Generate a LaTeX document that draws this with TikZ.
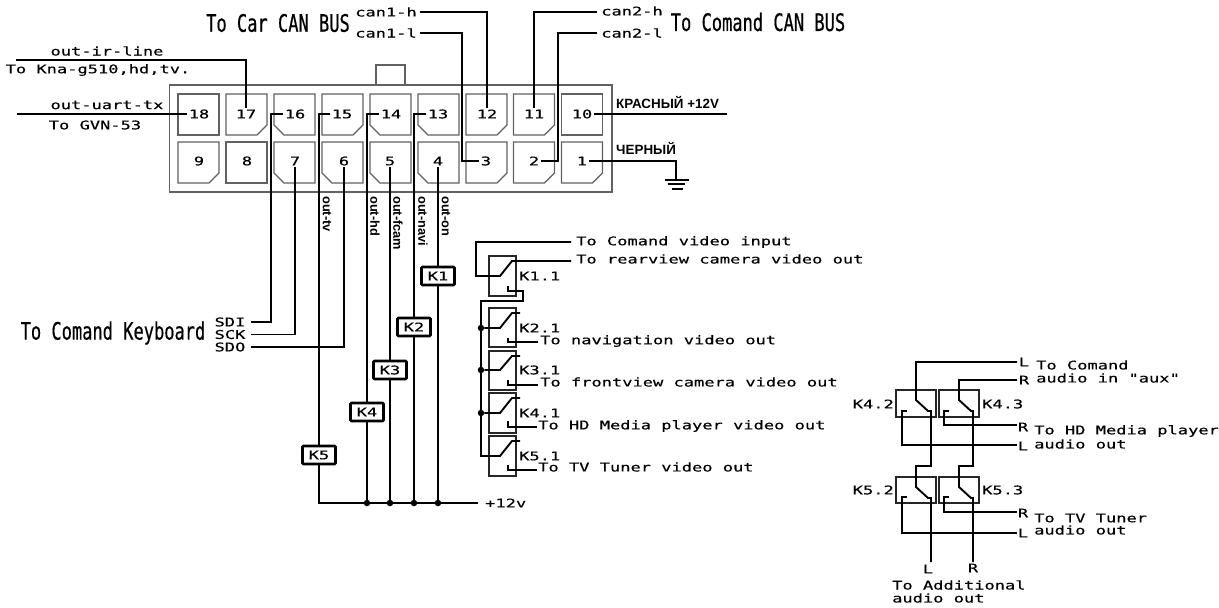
\documentclass[tikz,border=0pt]{standalone}
\usepackage{fontspec}
\setmainfont{DejaVu Sans Mono}
\newfontfamily\wf[FakeStretch=1.42,FakeBold=0.35]{DejaVu Sans Mono}
\newfontfamily\tf[FakeStretch=0.71,FakeBold=0.5]{DejaVu Sans Mono}
\newfontfamily\af{Liberation Sans}
\tikzset{
  wire/.style={line width=1.9pt,line join=miter},
  thickwire/.style={line width=2.9pt},
  pinbox/.style={draw=black!62,line width=1.2pt},
  housing/.style={draw=black!62,line width=1.3pt},
  relaybox/.style={draw=black!85,line width=1.9pt},
  lb/.style={font=\wf\fontsize{12}{13}\selectfont,inner sep=0pt,text=black},
  pinno/.style={lb,inner sep=1.5pt},
  big/.style={font=\tf\fontsize{24}{26}\selectfont,inner sep=0pt},
  ar/.style={font=\af\bfseries\fontsize{13.4}{15}\selectfont,inner sep=0pt},
  arv/.style={font=\af\bfseries\fontsize{12.8}{14}\selectfont,inner sep=0pt},
  coil/.style={lb,draw,line width=2.6pt,rounded corners=1pt,minimum width=33pt,minimum height=18pt,fill=white},
  dot/.style={circle,fill=black,inner sep=0pt,minimum size=6.5pt},
}
% \pinshape{x}{y}{kind}: 0 square, 1 bottom-right chamfer, 2 bottom-left chamfer
\newcommand{\pinshape}[3]{%
  \ifcase#3\relax
    \draw[pinbox] (#1,#2) -- ++(41,0) -- ++(0,41) -- ++(-41,0) -- cycle;
  \or
    \draw[pinbox] (#1,#2) -- ++(41,0) -- ++(0,31) -- ++(-10,10) -- ++(-31,0) -- cycle;
  \or
    \draw[pinbox] (#1,#2) -- ++(41,0) -- ++(0,41) -- ++(-31,0) -- ++(-10,-10) -- cycle;
  \fi}
\begin{document}
\begin{tikzpicture}[x=1pt,y=-1pt]
\useasboundingbox (0,0) rectangle (1219,608);
% housing
\draw[housing] (169.5,85) rectangle (612,192);
\draw[housing] (376,85) -- (376,65) -- (405,65) -- (405,85);
% pins
\pinshape{178}{94}{0}\pinshape{226}{94}{1}\pinshape{274}{94}{2}\pinshape{322}{94}{1}\pinshape{370}{94}{2}
\pinshape{418}{94}{2}\pinshape{466}{94}{1}\pinshape{513.5}{94}{1}\pinshape{561.5}{94}{0}
\pinshape{178}{142}{1}\pinshape{226}{142}{0}\pinshape{274}{142}{2}\pinshape{322}{142}{2}\pinshape{370}{142}{2}
\pinshape{418}{142}{2}\pinshape{466}{142}{1}\pinshape{513.5}{142}{1}\pinshape{561.5}{142}{1}
\node[pinno] (p18) at (199,114) {18};
\node[pinno] (p17) at (246,114) {17};
\node[pinno] (p16) at (295,114) {16};
\node[pinno] (p15) at (342,114) {15};
\node[pinno] (p14) at (391,114) {14};
\node[pinno] (p13) at (438,114) {13};
\node[pinno] (p12) at (487,114) {12};
\node[pinno] (p11) at (534,114) {11};
\node[pinno] (p10) at (582,114) {10};
\node[pinno] (p9) at (199,161) {9};
\node[pinno] (p8) at (247,161) {8};
\node[pinno] (p7) at (295,161) {7};
\node[pinno] (p6) at (344,161) {6};
\node[pinno] (p5) at (390,161) {5};
\node[pinno] (p4) at (438,161) {4};
\node[pinno] (p3) at (486,161) {3};
\node[pinno] (p2) at (534,161) {2};
\node[pinno] (p1) at (582,161) {1};
% free ends
\coordinate (irE) at (16,60);
\coordinate (uartE) at (17,114);
\coordinate (c1hE) at (420,12);
\coordinate (c1lE) at (420,33);
\coordinate (c2hE) at (597,12);
\coordinate (c2lE) at (597,33);
\coordinate (redE) at (727,114);
\coordinate (gnd) at (676,180);
\coordinate (lEnd) at (931,562);
\coordinate (rEnd) at (973,562);
% top labels
\node[big] (tcar) at (278,23) {To Car CAN BUS};
\node[big] (tcom) at (758,22) {To Comand CAN BUS};
\node[big] (tkbd) at (113,333) {To Comand Keyboard};
\node[lb] (lc1h) at (386,12) {can1-h};
\node[lb] (lc1l) at (386,33) {can1-l};
\node[lb] (lc2h) at (632,11) {can2-h};
\node[lb] (lc2l) at (632,33) {can2-l};
\node[lb] (lir) at (107,51) {out-ir-line};
\node[lb] (lkna) at (98,70) {To Kna-g510,hd,tv.};
\node[lb] (luart) at (107,105) {out-uart-tx};
\node[lb] (lgvn) at (95,125) {To GVN-53};
\node[ar,anchor=west] (lred) at (616,102) {КРАСНЫЙ +12V};
\node[ar,anchor=west] (lblk) at (616,148) {ЧЕРНЫЙ};
% connector wires
\draw[wire] (irE) -| (p17.north);
\draw[wire] (uartE) -- (p18.west);
\draw[wire] (c1hE) -| (p12.north);
\draw[wire] (c1lE) -| (462,161) -- (p3.west);
\draw[wire] (c2hE) -| (p11.north);
\draw[wire] (c2lE) -| (558,161) -- (p2.east);
\draw[thickwire] (p10.east) -- (redE);
\draw[thickwire] (p1.east) -| (gnd);
\draw[wire] (665,180) -- (689,180);
\draw[wire] (668,184) -- (685,184);
\draw[thickwire] (672,189) -- (683,189);
% keyboard
\node[lb] (sdi) at (230,322) {SDI};
\node[lb] (sck) at (230,334.5) {SCK};
\node[lb] (sdo) at (230,347) {SDO};
\draw[wire] (p16.west) -- (271,114) |- ([xshift=5pt]sdi.east);
\draw[wire] (p7.south) |- ([xshift=5pt]sck.east);
\draw[wire] (p6.south) |- ([xshift=5pt]sdo.east);
% coils
\node[coil] (K1) at (438,276) {K1};
\node[coil] (K2) at (414,327) {K2};
\node[coil] (K3) at (390,370) {K3};
\node[coil] (K4) at (367,412) {K4};
\node[coil] (K5) at (319,455) {K5};
\node[dot] (j4) at (367,503) {};
\node[dot] (j3) at (390,503) {};
\node[dot] (j2) at (414,503) {};
\node[dot] (j1) at (438,503) {};
\node[lb,anchor=west] (v12) at (485,503) {+12v};
\draw[wire] (p15.west) -| (K5.north);
\draw[wire] (p14.west) -| (K4.north);
\draw[wire] (p5.south) -- (K3.north);
\draw[wire] (p13.west) -| (K2.north);
\draw[wire] (p4.south) -- (K1.north);
\draw[wire] (K5.south) |- ([xshift=-7pt]v12.west);
\draw[wire] (K4.south) -- (j4);
\draw[wire] (K3.south) -- (j3);
\draw[wire] (K2.south) -- (j2);
\draw[wire] (K1.south) -- (j1);
\foreach \t/\x/\e in {out-tv/327/a,out-hd/375/b,out-fcam/398/c,out-navi/423/d,out-on/446/e}
  \node[arv,rotate=-90,anchor=west] (lab\e) at (\x,196) {\t};
% video relays
\draw[relaybox] (489,256) rectangle (516,296);
\draw[relaybox] (489,308) rectangle (516,347);
\draw[relaybox] (489,351) rectangle (516,390);
\draw[relaybox] (489,393) rectangle (516,433);
\draw[relaybox] (489,436) rectangle (516,476);
\node[lb,anchor=west] (k11) at (519,276) {K1.1};
\node[lb,anchor=west] (k21) at (519,328) {K2.1};
\node[lb,anchor=west] (k31) at (519,370) {K3.1};
\node[lb,anchor=west] (k41) at (519,413) {K4.1};
\node[lb,anchor=west] (k51) at (519,456) {K5.1};
\node[lb,anchor=west] (vcom) at (576,242) {To Comand video input};
\node[lb,anchor=west] (vrear) at (576,259) {To rearview camera video out};
\node[lb,anchor=west] (vnav) at (540,341) {To navigation video out};
\node[lb,anchor=west] (vfront) at (540,382) {To frontview camera video out};
\node[lb,anchor=west] (vhd) at (538,426) {To HD Media player video out};
\node[lb,anchor=west] (vtv) at (538,467) {To TV Tuner video out};
\node[dot] (d2) at (481,328) {};
\node[dot] (d3) at (481,370) {};
\node[dot] (d4) at (481,413) {};
\coordinate (vcomE) at (571,242);
\coordinate (vrearE) at (571,261);
\coordinate (vnavE) at (538,342);
\coordinate (vfrontE) at (538,385);
\coordinate (vhdE) at (537,427);
\coordinate (vtvE) at (537,470);
\draw[wire] (vcomE) -- (476,242) |- (500,276) -- (512,261) -- (vrearE);
\draw[wire] (508,286) |- (523,291) |- (481,301) |- (500,456) -- (512,441) -- (520,441);
\draw[wire] (d2) -- (500,328) -- (512,313) -- (520,313);
\draw[wire] (d3) -- (500,370) -- (512,356) -- (520,356);
\draw[wire] (d4) -- (500,413) -- (512,398) -- (520,398);
\draw[wire] (508,338) |- (vnavE);
\draw[wire] (508,380) |- (vfrontE);
\draw[wire] (508,421) |- (vhdE);
\draw[wire] (508,465) |- (vtvE);
% audio relays
\draw[relaybox] (896,390) rectangle (936,417);
\draw[relaybox] (939,390) rectangle (979,417);
\draw[relaybox] (896,477) rectangle (936,503);
\draw[relaybox] (939,477) rectangle (979,503);
\node[lb,anchor=east] (k42) at (894,404) {K4.2};
\node[lb,anchor=west] (k43) at (982,404) {K4.3};
\node[lb,anchor=east] (k52) at (894,490) {K5.2};
\node[lb,anchor=west] (k53) at (982,490) {K5.3};
\node[lb] (aL1) at (1024,362) {L};
\node[lb] (aR1) at (1024,380) {R};
\node[lb] (aR2) at (1023,427) {R};
\node[lb] (aL2) at (1023,446) {L};
\node[lb] (aR3) at (1023,513) {R};
\node[lb] (aL3) at (1023,533) {L};
\node[lb] (aL4) at (928,569) {L};
\node[lb] (aR4) at (973,568) {R};
\node[lb,anchor=west] (acom) at (1036,365) {To Comand};
\node[lb,anchor=west] (aaux) at (1036,378) {audio in "aux"};
\node[lb,anchor=west] (ahd) at (1034,431) {To HD Media player};
\node[lb,anchor=west] (ahd2) at (1034,444) {audio out};
\node[lb,anchor=west] (atv) at (1034,518) {To TV Tuner};
\node[lb,anchor=west] (atv2) at (1034,530) {audio out};
\node[lb,anchor=west] (aadd) at (892,585) {To Additional};
\node[lb,anchor=west] (aadd2) at (892,598) {audio out};
\coordinate (aL1E) at (1017,362);
\coordinate (aR1E) at (1017,380);
\coordinate (aR2E) at (1017,425);
\coordinate (aL2E) at (1017,445);
\coordinate (aR3E) at (1017,512);
\coordinate (aL3E) at (1017,533);
\draw[wire] (aL1E) -- (916,362) -- (916,400) -- (928,411) -- (931,411) -- (931,466) -- (916,466) -- (916,487) -- (928,498) -- (931,498) -- (lEnd);
\draw[wire] (aR1E) -- (959,380) -- (959,400) -- (971,411) -- (973,411) -- (973,466) -- (959,466) -- (959,487) -- (971,498) -- (973,498) -- (rEnd);
\draw[wire] (907,411) -- (902,411) -- (902,445) -- (aL2E);
\draw[wire] (949,411) -- (944,411) -- (944,425) -- (aR2E);
\draw[wire] (907,497) -- (902,497) -- (902,533) -- (aL3E);
\draw[wire] (949,497) -- (944,497) -- (944,512) -- (aR3E);
\end{tikzpicture}
\end{document}
